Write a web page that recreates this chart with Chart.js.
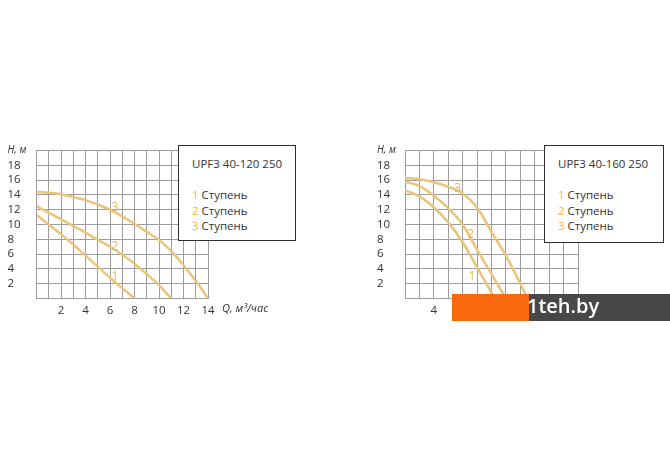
<!DOCTYPE html>
<html>
<head>
<meta charset="utf-8">
<script src="https://cdn.jsdelivr.net/npm/chart.js@4/dist/chart.umd.min.js"></script>
<style>
  body { margin: 0; width: 670px; height: 471px; background: #fff; position: relative; overflow: hidden; font-family: "Open Sans", sans-serif; }
  .box { position: absolute; }
  .legend { position: absolute; background: #fff; border: 1.5px solid #2e2e2e; box-sizing: border-box; color: #333; font-size: 11.5px; }
  .legend span { position: absolute; white-space: nowrap; line-height: 14px; }
  .legend b { font-weight: normal; color: #f0b442; }
  .mark { position: absolute; left: 452px; top: 294px; width: 218px; height: 27px; background: #484848; }
  .mark .org { position: absolute; left: 0; top: 0; width: 77px; height: 27px; background: #f8690f; }
  .mark .txt { position: absolute; left: 75px; top: -2px; color: #fff; font: 600 20px "Open Sans", sans-serif; }
</style>
</head>
<body>
<div class="box" style="left:0;top:140px"><canvas id="left" width="330" height="190"></canvas></div>
<div class="box" style="left:340px;top:140px"><canvas id="right" width="330" height="190"></canvas></div>

<div class="legend" style="left:178px;top:145px;width:118px;height:96px">
  <span style="left:13px;top:11px">UPF3 40-120 250</span>
  <span style="left:13px;top:42px"><b>1</b> Ступень</span>
  <span style="left:13px;top:58px"><b>2</b> Ступень</span>
  <span style="left:13px;top:73px"><b>3</b> Ступень</span>
</div>
<div class="legend" style="left:544px;top:145px;width:120px;height:98px">
  <span style="left:13px;top:11px">UPF3 40-160 250</span>
  <span style="left:13px;top:42px"><b>1</b> Ступень</span>
  <span style="left:13px;top:58px"><b>2</b> Ступень</span>
  <span style="left:13px;top:73px"><b>3</b> Ступень</span>
</div>

<div class="mark"><div class="org"></div><div class="txt">1teh.by</div></div>

<script>
// UPF3 40-120 250 : Q (м³/час) and H (м) for each step
var leftQ1 = [0, 1, 2, 3, 4, 5, 6, 7, 8];
var leftH1 = [11.3, 10.0, 8.7, 7.3, 5.8, 4.3, 2.8, 1.4, 0];
var leftQ2 = [0, 1, 2, 3, 4, 5, 6, 7, 8, 9, 10, 11];
var leftH2 = [12.5, 11.6, 10.7, 9.8, 8.9, 7.9, 7.0, 5.9, 4.7, 3.3, 1.8, 0];
var leftQ3 = [0, 1, 2, 3, 4, 5, 6, 7, 8, 9, 10, 11, 12, 13, 14];
var leftH3 = [14.4, 14.3, 14.1, 13.7, 13.3, 12.7, 12.0, 11.1, 10.1, 9.0, 7.9, 6.4, 4.5, 2.4, 0];

// UPF3 40-160 250
var rightQ1 = [0, 2, 4, 6, 8, 10, 11, 12, 12.6];
var rightH1 = [14.6, 13.8, 12.3, 10.3, 7.6, 4.2, 2.5, 0.8, 0];
var rightQ2 = [0, 2, 4, 6, 8, 10, 12, 13.4, 14];
var rightH2 = [15.8, 15.2, 13.9, 12.2, 10.0, 6.6, 3.3, 1.0, 0];
var rightQ3 = [0, 2, 4, 6, 8, 10, 12, 14, 16, 17];
var rightH3 = [16.3, 16.1, 15.7, 15.1, 14.2, 12.3, 9.0, 5.8, 2.0, 0];

// step numbers written on the curves
var stepNames = ["1", "2", "3"];
var leftTagQ = [6.4, 6.4, 6.4];
var leftTagH = [3.0, 7.0, 12.3];
var rightTagQ = [9.3, 9.1, 7.3];
var rightTagH = [3.0, 8.6, 14.9];

// tick labels
var yTickLabels = [2, 4, 6, 8, 10, 12, 14, 16, 18];
var leftXTickLabels = [2, 4, 6, 8, 10, 12, 14];
var rightXTickLabels = [4, 8, 12, 16, 20, 24];
var yAxisName = "H, м";
var xAxisName = "Q, м³/час";

var curveColor = "#e9c47a";
var tagColor = "#e8b64c";
var gridColor = "#9c9c9c";
var textColor = "#333";

function toPoints(q, h) {
  return q.map(function (v, i) { return { x: v, y: h[i] }; });
}

var tagPlugin = {
  id: "tags",
  afterDatasetsDraw: function (chart, args, opts) {
    var c = chart.ctx, xs = chart.scales.x, ys = chart.scales.y;
    c.save();
    c.font = "12px 'Open Sans', sans-serif";
    c.fillStyle = tagColor;
    c.textAlign = "center";
    c.textBaseline = "middle";
    stepNames.forEach(function (n, i) {
      c.fillText(n, xs.getPixelForValue(opts.q[i]), ys.getPixelForValue(opts.h[i]));
    });
    c.font = "italic 11px 'Open Sans', sans-serif";
    c.fillStyle = textColor;
    c.textAlign = "left";
    c.fillText(xAxisName, xs.right + 14, xs.bottom - 12);
    c.restore();
  }
};

function makeChart(id, sets, xMax, xStep, xLabels, tagQ, tagH, pad, yWidth) {
  return new Chart(document.getElementById(id), {
    type: "line",
    data: {
      datasets: sets.map(function (s) {
        return {
          data: toPoints(s[0], s[1]),
          borderColor: curveColor,
          borderWidth: 2.5,
          pointRadius: 0,
          fill: false,
          cubicInterpolationMode: "monotone"
        };
      })
    },
    options: {
      responsive: false,
      animation: false,
      devicePixelRatio: 1,
      layout: { padding: pad },
      plugins: { legend: { display: false }, tooltip: { enabled: false }, tags: { q: tagQ, h: tagH } },
      scales: {
        x: {
          type: "linear", min: 0, max: xMax,
          grid: { color: gridColor, drawTicks: false },
          border: { color: gridColor },
          ticks: {
            stepSize: xStep, autoSkip: false, maxRotation: 0, padding: 5, color: textColor,
            font: { family: "'Open Sans', sans-serif", size: 11.5 },
            callback: function (v) { return xLabels.indexOf(v) >= 0 ? String(v) : ""; }
          },
          afterFit: function (s) { s.height = 22; }
        },
        y: {
          min: 0, max: 20,
          grid: { color: gridColor, drawTicks: false },
          border: { color: gridColor },
          ticks: {
            stepSize: 2, autoSkip: false, crossAlign: "far", color: textColor,
            font: function (ctx) {
              var top = ctx.tick && ctx.tick.value === 20;
              return { family: "'Open Sans', sans-serif", size: top ? 10 : 11.5, style: top ? "italic" : "normal" };
            },
            callback: function (v) {
              if (v === 20) return yAxisName;
              return yTickLabels.indexOf(v) >= 0 ? String(v) : "";
            }
          },
          afterFit: function (s) { s.width = yWidth; }
        }
      }
    },
    plugins: [tagPlugin]
  });
}

makeChart("left",
  [[leftQ1, leftH1], [leftQ2, leftH2], [leftQ3, leftH3]],
  14, 1, leftXTickLabels, leftTagQ, leftTagH,
  { left: 7.5, top: 10.5, right: 122, bottom: 9.5 }, 29);

makeChart("right",
  [[rightQ1, rightH1], [rightQ2, rightH2], [rightQ3, rightH3]],
  24, 2, rightXTickLabels, rightTagQ, rightTagH,
  { left: 37, top: 10.5, right: 92, bottom: 9.5 }, 28);
</script>
</body>
</html>
